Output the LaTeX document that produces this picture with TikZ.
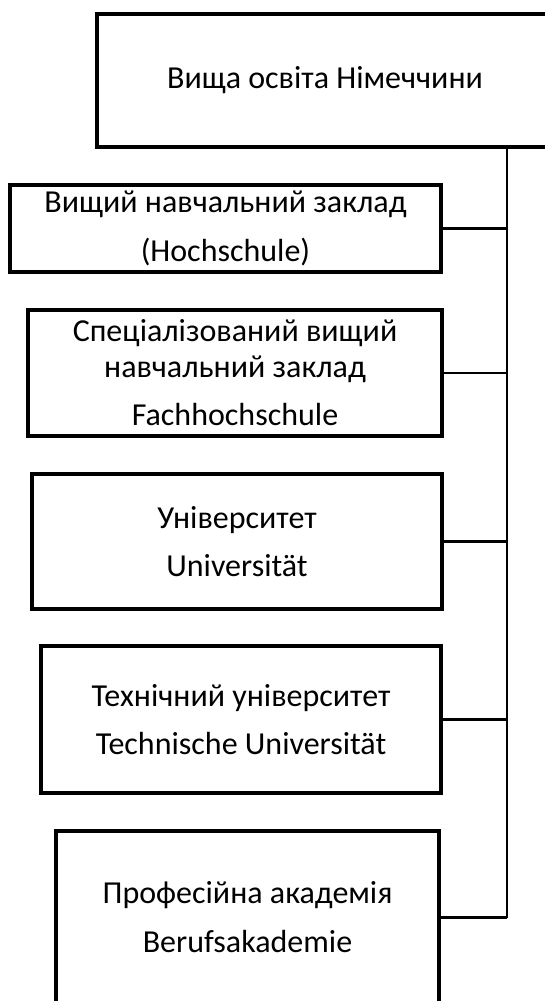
\documentclass[tikz,border=0pt]{standalone}
\usepackage{fontspec}
\setmainfont{Carlito}
\begin{document}
\begin{tikzpicture}[x=1pt,y=-1pt,
  box/.style={draw=black, line width=3.6pt, fill=white, rectangle, inner sep=0pt, outer sep=0pt, align=center,
    font=\fontsize{32}{49}\selectfont},
  openbox/.style={box, draw=none},
  edge3/.style={draw=black, line width=3.6pt, line join=miter},
  trunkline/.style={draw=black, line width=2.8pt},
  link/.style={draw=black, line width=2.2pt}]
\useasboundingbox (0,0) rectangle (545,1001);
\fill[white] (0,0) rectangle (545,1001);
% boxes
\node[openbox, minimum width=500pt, minimum height=133pt] (top) at (347,80.5) {\hspace*{-44pt}Вища освіта Німеччини};
\draw[edge3] (top.north east) -- (top.north west) -- (top.south west) -- (top.south east);
\node[box, minimum width=431pt, minimum height=87pt] (b2) at (225.5,228.5) {Вищий навчальний заклад\\(Hochschule)};
\node[box, minimum width=414pt, minimum height=126pt] (b3) at (235,373) {Спеціалізований вищий\\[-13pt]навчальний заклад\\[-1pt]Fachhochschule};
\node[box, minimum width=410pt, minimum height=135pt] (b4) at (237,541.5) {Університет\\[-1pt]Universität};
\node[box, minimum width=400pt, minimum height=147pt] (b5) at (241,719.5) {Технічний університет\\[-1pt]Technische Universität};
\node[box, minimum width=383pt, minimum height=173pt] (b6) at (247.5,917.5) {Професійна академія\\Berufsakademie};
% trunk
\coordinate (tk) at (507,147);
\draw[trunkline] (tk |- top.south) -- (tk |- b6.east);
% links
\foreach \b in {b2,b3,b4,b5,b6} {
  \draw[link] (\b.east) -- (tk |- \b.east);
}
\end{tikzpicture}
\end{document}
